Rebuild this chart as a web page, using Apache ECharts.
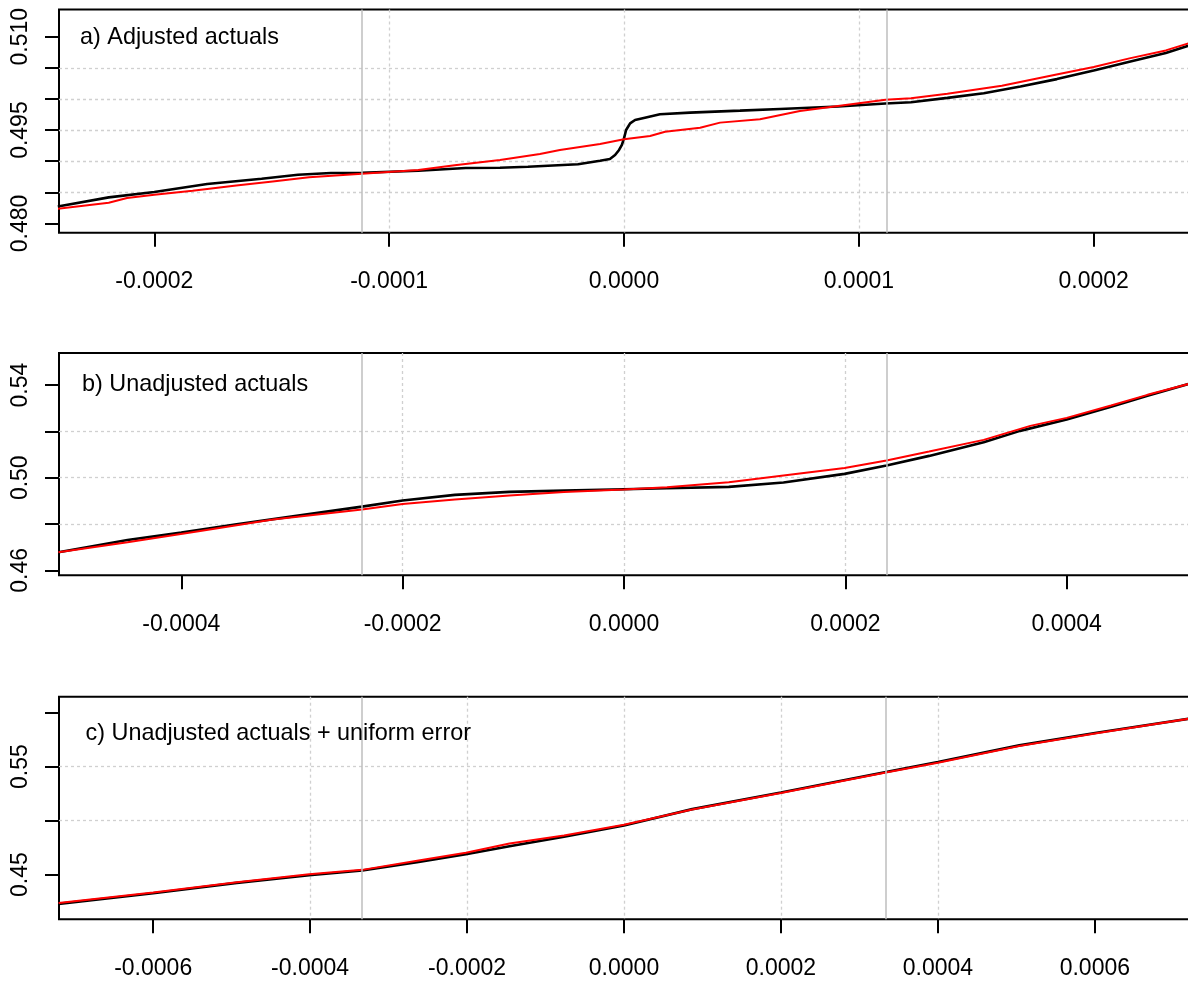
<!DOCTYPE html>
<html>
<head>
<meta charset="utf-8">
<script src="https://cdn.jsdelivr.net/npm/echarts@6/dist/echarts.min.js"></script>
<style>
html,body{margin:0;padding:0;background:#fff;}
#chart{width:1188px;height:985px;}
</style>
</head>
<body>
<div id="chart"></div>
<script>
// ---------- Panel titles ----------
const panelTitles = ['a) Adjusted actuals', 'b) Unadjusted actuals', 'c) Unadjusted actuals + uniform error'];

// ---------- Axis extents ----------
const xRangeA = [-0.00024058, 0.00024058];
const yRangeA = [0.47852, 0.51437];
const xRangeB = [-0.0005105, 0.0005105];
const yRangeB = [0.45784, 0.5539];
const xRangeC = [-0.00072, 0.00072];
const yRangeC = [0.40852, 0.61481];

// ---------- Ticks and labels ----------
const xTicksA = [-0.0002, -0.0001, 0, 0.0001, 0.0002];
const yTicksA = [0.480, 0.485, 0.490, 0.495, 0.500, 0.505, 0.510];
const yLabelsA = [0.480, 0.495, 0.510];
const xTicksB = [-0.0004, -0.0002, 0, 0.0002, 0.0004];
const yTicksB = [0.46, 0.48, 0.50, 0.52, 0.54];
const yLabelsB = [0.46, 0.50, 0.54];
const xTicksC = [-0.0006, -0.0004, -0.0002, 0, 0.0002, 0.0004, 0.0006];
const yTicksC = [0.45, 0.50, 0.55, 0.60];
const yLabelsC = [0.45, 0.55];

// ---------- Grey reference lines ----------
const refLinesA = [-0.0001117, 0.0001117];
const refLinesB = [-0.000237, 0.000237];
const refLinesC = [-0.0003337, 0.0003337];

// ---------- Panel a data ----------
const blackA = [
  [-0.0002411, 0.48274], [-0.0002194, 0.48419], [-0.0002, 0.48505], [-0.0001775, 0.48633],
  [-0.0001543, 0.48719], [-0.0001388, 0.48784], [-0.0001248, 0.4881], [-0.0001116, 0.48816],
  [-0.0000876, 0.48848], [-0.0000674, 0.48891], [-0.0000528, 0.48896], [-0.0000409, 0.48912],
  [-0.0000196, 0.48951], [-0.0000102, 0.49009], [-0.000006, 0.49036], [-0.0000038, 0.491],
  [-0.0000021, 0.49181], [-0.0000009, 0.49261], [0, 0.49368], [0.0000009, 0.49502],
  [0.0000026, 0.49609], [0.0000047, 0.49662], [0.0000089, 0.49699], [0.0000153, 0.49754],
  [0.0000281, 0.4978], [0.0000494, 0.49812], [0.0000664, 0.49839], [0.0000912, 0.49879],
  [0.0001113, 0.49927], [0.0001222, 0.49948], [0.0001377, 0.50018], [0.0001532, 0.50093],
  [0.0001688, 0.50201], [0.0001843, 0.50319], [0.0002, 0.50458], [0.0002152, 0.50598],
  [0.0002307, 0.50738], [0.0002412, 0.50867]
];
const redA = [
  [-0.0002411, 0.48236], [-0.0002194, 0.48333], [-0.0002116, 0.48408], [-0.0002, 0.48462],
  [-0.0001837, 0.48526], [-0.0001651, 0.48612], [-0.0001496, 0.48676], [-0.0001341, 0.48741],
  [-0.0001116, 0.488], [-0.0000876, 0.48859], [-0.0000721, 0.48934], [-0.0000528, 0.4902],
  [-0.0000358, 0.49116], [-0.0000273, 0.49181], [-0.0000102, 0.49277], [0, 0.49352],
  [0.0000111, 0.49405], [0.0000175, 0.49474], [0.0000324, 0.49539], [0.0000409, 0.4962],
  [0.0000579, 0.49674], [0.0000749, 0.49807], [0.0001, 0.49932], [0.0001113, 0.49986],
  [0.0001222, 0.50013], [0.0001377, 0.50083], [0.0001609, 0.50212], [0.0001842, 0.50394],
  [0.0002, 0.50512], [0.0002152, 0.50652], [0.0002307, 0.5078], [0.0002412, 0.50904]
];

// ---------- Panel b data ----------
const blackB = [
  [-0.000511, 0.46778], [-0.0004486, 0.47312], [-0.0004, 0.47629], [-0.00035, 0.47989],
  [-0.0003007, 0.48321], [-0.0002367, 0.48753], [-0.0002, 0.49013], [-0.0001528, 0.49258],
  [-0.0001035, 0.49387], [-0.0000542, 0.49445], [0, 0.49503], [0.0000388, 0.49546],
  [0.0000947, 0.49604], [0.0001441, 0.49791], [0.0001993, 0.50166], [0.0002372, 0.50526],
  [0.0002757, 0.50944], [0.000325, 0.51535], [0.0003579, 0.52025], [0.0004, 0.52515],
  [0.0004401, 0.53063], [0.000473, 0.53539], [0.0005118, 0.54072]
];
const redB = [
  [-0.000511, 0.46778], [-0.0004486, 0.47211], [-0.0003829, 0.47701], [-0.0003172, 0.48191],
  [-0.0002367, 0.48623], [-0.0002, 0.48868], [-0.0001528, 0.49056], [-0.0001035, 0.49229],
  [-0.0000542, 0.49387], [0, 0.49488], [0.0000388, 0.49589], [0.0000947, 0.49805],
  [0.0001441, 0.50094], [0.0001993, 0.50425], [0.0002372, 0.50742], [0.0002757, 0.51132],
  [0.000325, 0.51636], [0.0003671, 0.52241], [0.0004, 0.52587], [0.0004401, 0.53121],
  [0.000473, 0.53582], [0.0005118, 0.54072]
];

// ---------- Panel c data ----------
const blackC = [
  [-0.0007205, 0.42278], [-0.0006, 0.43268], [-0.0004934, 0.44227], [-0.0004012, 0.44938],
  [-0.0003336, 0.45371], [-0.0002617, 0.46175], [-0.0002015, 0.46887], [-0.0001459, 0.47629],
  [-0.0000764, 0.48495], [0, 0.49547], [0.000087, 0.51062], [0.0002, 0.52609],
  [0.0003338, 0.54496], [0.0004, 0.55424], [0.0005037, 0.5697], [0.0006023, 0.58146],
  [0.0007204, 0.59445]
];
const redC = [
  [-0.0007205, 0.42371], [-0.0006, 0.4333], [-0.0004934, 0.44289], [-0.0004012, 0.45031],
  [-0.0003336, 0.45433], [-0.0002617, 0.46299], [-0.0002015, 0.47011], [-0.0001459, 0.47877],
  [-0.0000764, 0.48619], [0, 0.49609], [0.000087, 0.51031], [0.0002, 0.52547],
  [0.0003338, 0.54465], [0.0004, 0.55362], [0.0005037, 0.56909], [0.0006023, 0.58084],
  [0.0007204, 0.59445]
];

// ---------- Build option ----------
const FONT = "'Liberation Sans', Arial, Helvetica, sans-serif";
const grids = [
  {left: 59, top: 9.5, width: 1130, height: 223.2},
  {left: 59, top: 353, width: 1130, height: 222.3},
  {left: 59, top: 696.7, width: 1130, height: 222.6}
].map(g => Object.assign(g, {
  show: true, borderColor: '#000', borderWidth: 2, backgroundColor: 'transparent',
  containLabel: false, outerBoundsMode: 'none'
}));

const panels = [
  {xr: xRangeA, yr: yRangeA, xt: xTicksA, xi: 0.0001, yt: yTicksA, yl: yLabelsA, yi: 0.005, yd: 3, ref: refLinesA, black: blackA, red: redA},
  {xr: xRangeB, yr: yRangeB, xt: xTicksB, xi: 0.0002, yt: yTicksB, yl: yLabelsB, yi: 0.02, yd: 2, ref: refLinesB, black: blackB, red: redB},
  {xr: xRangeC, yr: yRangeC, xt: xTicksC, xi: 0.0002, yt: yTicksC, yl: yLabelsC, yi: 0.05, yd: 2, ref: refLinesC, black: blackC, red: redC}
];

const splitLineStyle = {color: '#d0d0d0', width: 1.3, type: [3, 3]};
const xAxes = [], yAxes = [], series = [], titles = [];
const titlePos = [{left: 80, top: 26.3}, {left: 82, top: 373.5}, {left: 85.5, top: 722.3}];

panels.forEach((p, i) => {
  xAxes.push({
    type: 'value', gridIndex: i, min: p.xr[0], max: p.xr[1],
    minInterval: p.xi, maxInterval: p.xi,
    axisLine: {show: false, onZero: false},
    axisTick: {show: true, customValues: p.xt, length: 14, inside: false, lineStyle: {color: '#000', width: 2}},
    axisLabel: {show: true, customValues: p.xt, margin: 37.5, color: '#000', fontSize: 23, fontFamily: FONT,
      formatter: v => (Math.abs(v) < 1e-12 ? 0 : v).toFixed(4)},
    splitLine: {show: true, showMinLine: false, showMaxLine: false, lineStyle: splitLineStyle}
  });
  yAxes.push({
    type: 'value', gridIndex: i, min: p.yr[0], max: p.yr[1],
    minInterval: p.yi, maxInterval: p.yi,
    axisLine: {show: false, onZero: false},
    axisTick: {show: true, customValues: p.yt, length: 14, inside: false, lineStyle: {color: '#000', width: 2}},
    axisLabel: {show: true, customValues: p.yl, rotate: 90, margin: 27, color: '#000', fontSize: 23, fontFamily: FONT,
      formatter: (d => v => v.toFixed(d))(p.yd)},
    splitLine: {show: true, showMinLine: false, showMaxLine: false, lineStyle: splitLineStyle}
  });
  series.push({
    type: 'line', xAxisIndex: i, yAxisIndex: i, data: p.black, z: 2,
    symbol: 'none', showSymbol: false, silent: true, clip: true,
    lineStyle: {color: '#000', width: 2.6},
    markLine: {
      silent: true, symbol: ['none', 'none'], label: {show: false}, animation: false,
      lineStyle: {color: '#bebebe', type: 'solid', width: 1.5},
      emphasis: {disabled: true},
      data: p.ref.map(v => [{coord: [v, p.yr[0]]}, {coord: [v, p.yr[1]]}])
    }
  });
  series.push({
    type: 'line', xAxisIndex: i, yAxisIndex: i, data: p.red, z: 3,
    symbol: 'none', showSymbol: false, silent: true, clip: true,
    lineStyle: {color: '#ff0000', width: 2}
  });
  titles.push({
    text: panelTitles[i], left: titlePos[i].left, top: titlePos[i].top, padding: 0,
    textStyle: {color: '#000', fontSize: 23.4, fontWeight: 'normal', fontFamily: FONT, lineHeight: 23}
  });
});

const chart = echarts.init(document.getElementById('chart'), null, {renderer: 'canvas'});
chart.setOption({
  animation: false,
  backgroundColor: '#fff',
  title: titles,
  grid: grids,
  xAxis: xAxes,
  yAxis: yAxes,
  series: series
});
</script>
</body>
</html>
